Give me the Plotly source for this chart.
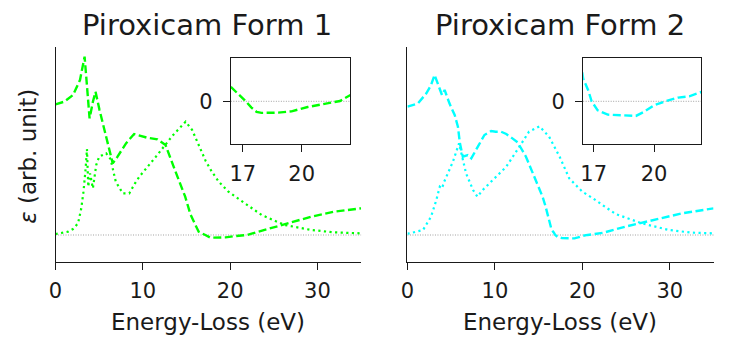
import plotly.graph_objects as go

# ---------------- data ----------------
# Form 1: real part (dashed)
e1_f1_E = [0, 1.0, 2.0, 2.8, 3.33, 3.64, 3.9, 4.28, 4.58, 5.04, 5.6, 6.17, 6.55, 7.1, 8.07, 9.0,
           10.5, 11.67, 12.6, 13.6, 14.85, 15.45, 16.0, 16.39, 17.1, 17.44, 17.7, 17.95, 18.8,
           19.48, 20.3, 21.35, 21.95, 22.46, 23.6, 26.25, 29.3, 31.9, 35]
e1_f1_V = [392, 400, 420, 465, 535, 435, 350, 400, 430, 375, 315, 255, 215, 235, 275, 303,
           292, 287, 270, 200, 115, 62, 30, 10, 0.7, -4.4, -7.4, -8.1, -7.9,
           -7.0, -4.0, -1.6, 0.2, 4.2, 13, 33, 55, 70, 80]
# Form 1: imaginary part (dotted)
e2_f1_E = [0, 0.5, 1.44, 2.0, 2.58, 2.95, 3.2, 3.45, 3.6, 3.75, 3.95, 4.28, 4.66, 5.0, 5.8, 6.3,
           6.9, 7.7, 8.45, 9.1, 9.6, 11.5, 13.4, 14.9, 15.65, 16.4, 17.2, 17.9, 18.7, 19.8,
           21.7, 23.6, 26.25, 29.3, 31.9, 35]
e2_f1_V = [3, 5, 10, 18, 35, 80, 130, 200, 258, 145, 185, 140, 210, 235, 245, 228,
           160, 125, 125, 155, 175, 235, 298, 340, 315, 270, 222, 190, 160, 130,
           95, 60, 30, 15, 8, 5]
# Form 2: real part (dashed)
e1_f2_E = [0, 1.2, 2.16, 2.7, 3.1, 3.7, 3.95, 4.25, 4.8, 5.4, 5.77, 6.0, 6.33, 6.9, 7.3, 8.05,
           8.8, 9.57, 10.1, 10.7, 11.3, 12.0, 12.6, 13.55, 14.7, 15.45, 15.8, 16.48, 16.73,
           16.9, 17.2, 17.7, 18.5, 19.1, 19.5, 20.0, 20.6, 21.2, 21.75, 22.35, 24.9, 28.0,
           31.4, 35]
e1_f2_V = [385, 395, 425, 450, 480, 440, 420, 435, 395, 360, 325, 275, 235, 240, 230, 265,
           300, 312, 310, 310, 303, 290, 278, 235, 165, 115, 85, 15.8, 7.7,
           0, -6.3, -9.3, -9.8, -10.2, -7.4, -2.8, 0.2, 2.6, 3.5, 6.5, 25, 45,
           65, 80]
# Form 2: imaginary part (dotted)
e2_f2_E = [0, 0.27, 1.78, 2.7, 3.3, 3.7, 3.95, 4.2, 5.2, 5.9, 6.7, 7.5, 8.0, 8.6, 9.76, 11.3,
           12.8, 13.9, 15.1, 16.2, 17.4, 18.5, 20.0, 21.2, 23.8, 26.8, 29.9, 32.5, 35]
e2_f2_V = [4, 5, 15, 55, 105, 145, 140, 160, 220, 275, 185, 135, 115, 135, 165, 205,
           265, 310, 326, 295, 235, 170, 130, 110, 63, 35, 15, 7, 5]

titles = ["Piroxicam Form 1", "Piroxicam Form 2"]
xlabel = "Energy-Loss (eV)"
ylabel = "<i>ε</i> (arb. unit)"
main_ticks = [0, 10, 20, 30]
inset_xticks = [17, 20]
inset_yticks = [0]

GREEN = "#00ff00"
CYAN = "#00ffff"
FONT = "DejaVu Sans"
INK = "#1a1a1a"

W, H = 737, 346

def px_x(p):
    return p / W

def px_y(p):
    return 1 - p / H

fig = go.Figure()

series = [
    (e1_f1_E, e1_f1_V, e2_f1_E, e2_f1_V, GREEN, "x", "y", "x3", "y3"),
    (e1_f2_E, e1_f2_V, e2_f2_E, e2_f2_V, CYAN, "x2", "y2", "x4", "y4"),
]
for (aE, aV, bE, bV, col, mx, my, ix, iy) in series:
    for xa, ya in ((mx, my), (ix, iy)):
        fig.add_trace(go.Scatter(x=bE, y=bV, mode="lines", xaxis=xa, yaxis=ya,
                                 line=dict(color=col, width=2.2, dash="2.2px,3.4px"),
                                 showlegend=False, hoverinfo="skip"))
        fig.add_trace(go.Scatter(x=aE, y=aV, mode="lines", xaxis=xa, yaxis=ya,
                                 line=dict(color=col, width=2.4, dash="8px,3.5px"),
                                 showlegend=False, hoverinfo="skip"))

main_y = [46.7, 262]
main_x = [(49, 357.5), (404.3, 713.3)]
inset_y = [58.3, 144.3]
inset_x = [(226, 346.7), (581.7, 701)]
inset_xr = [(16.39, 22.48), (16.48, 22.35)]

axis_common = dict(showgrid=False, zeroline=False, linecolor=INK, linewidth=1.3,
                   tickcolor=INK, tickwidth=1.3, ticklen=7, ticks="outside",
                   tickfont=dict(family=FONT, size=21, color=INK))

layout = dict(width=W, height=H, margin=dict(l=0, r=0, t=0, b=0),
              paper_bgcolor="white", plot_bgcolor="rgba(0,0,0,0)", showlegend=False)

for i in range(2):
    xn = "xaxis" if i == 0 else "xaxis2"
    yn = "yaxis" if i == 0 else "yaxis2"
    ya_ref = "y" if i == 0 else "y2"
    xa_ref = "x" if i == 0 else "x2"
    layout[xn] = dict(axis_common, domain=[px_x(main_x[i][0]), px_x(main_x[i][1])],
                      range=[0, 35], tickvals=main_ticks, showline=True, anchor=ya_ref,
                      ticklabelstandoff=3)
    layout[yn] = dict(axis_common, domain=[px_y(main_y[1]), px_y(main_y[0])],
                      range=[-81, 565], showline=True, ticks="", showticklabels=False,
                      anchor=xa_ref)
    xin = "xaxis3" if i == 0 else "xaxis4"
    yin = "yaxis3" if i == 0 else "yaxis4"
    xi_ref = "x3" if i == 0 else "x4"
    yi_ref = "y3" if i == 0 else "y4"
    layout[xin] = dict(axis_common, domain=[px_x(inset_x[i][0]), px_x(inset_x[i][1])],
                       range=list(inset_xr[i]), tickvals=inset_xticks, showline=True,
                       mirror=True, anchor=yi_ref, ticklabelstandoff=3)
    layout[yin] = dict(axis_common, domain=[px_y(inset_y[1]), px_y(inset_y[0])],
                       range=[-30, 30], tickvals=inset_yticks, showline=True,
                       mirror=True, anchor=xi_ref, ticklabelstandoff=6)

fig.update_layout(**layout)

# zero reference lines
shapes = []
for xr, yr in (("x", "y"), ("x2", "y2"), ("x3", "y3"), ("x4", "y4")):
    shapes.append(dict(type="line", xref=xr + " domain", yref=yr, x0=0, x1=1, y0=0, y1=0,
                       line=dict(color="#a0a0a0", width=1, dash="1px,1.5px"), layer="below"))
fig.update_layout(shapes=shapes)

annotations = []
for i in range(2):
    cx = (main_x[i][0] + main_x[i][1]) / 2
    annotations.append(dict(text=titles[i], x=px_x(cx - 1), y=px_y(25), xref="paper", yref="paper",
                            showarrow=False, xanchor="center", yanchor="middle",
                            font=dict(family=FONT, size=29, color=INK)))
    annotations.append(dict(text=xlabel, x=px_x(cx), y=px_y(322), xref="paper", yref="paper",
                            showarrow=False, xanchor="center", yanchor="middle",
                            font=dict(family=FONT, size=23, color=INK)))
annotations.append(dict(text=ylabel, x=px_x(21), y=px_y(156), xref="paper", yref="paper",
                        showarrow=False, xanchor="center", yanchor="middle", textangle=-90,
                        font=dict(family=FONT, size=23, color=INK)))
fig.update_layout(annotations=annotations)

fig.write_html("out.html", config={"displayModeBar": False},
               post_script="document.body.style.margin='0';")
